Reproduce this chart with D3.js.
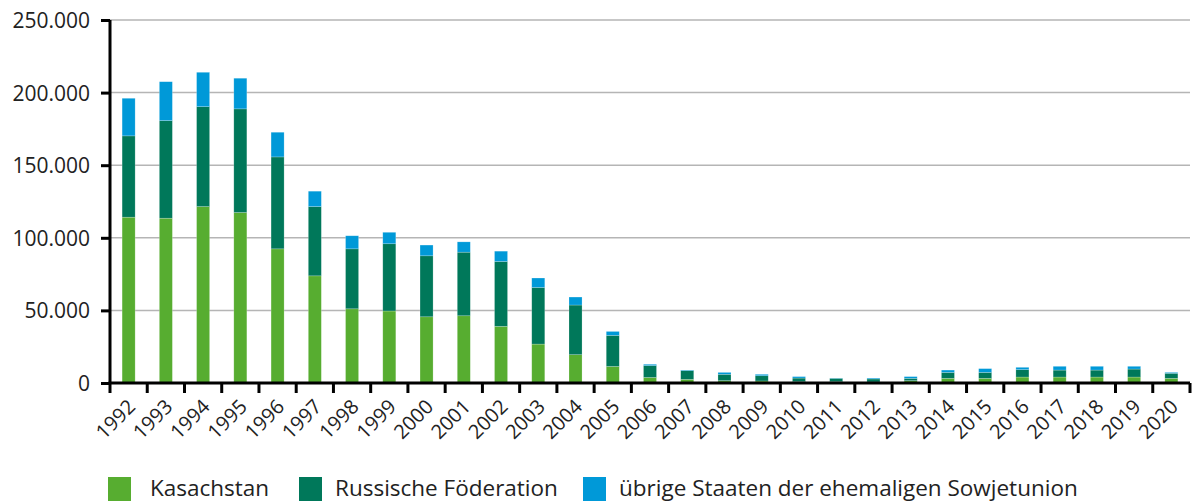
<html>
<head>
<script src="https://d3js.org/d3.v7.min.js"></script>
<style>
  body { margin: 0; background: #fff; }
  .tick-label { font-family: "Open Sans", sans-serif; fill: #222; }
  .legend-label { font-family: "Open Sans", sans-serif; fill: #222; }
</style>
</head>

<body>

<script>

var years = ["1992","1993","1994","1995","1996","1997","1998","1999","2000","2001",
             "2002","2003","2004","2005","2006","2007","2008","2009","2010","2011",
             "2012","2013","2014","2015","2016","2017","2018","2019","2020"];

var kasachstan = [114200,113500,121500,117400,92400,73800,51100,49600,45600,46300,
                  39000,26800,19500,11400,3800,2500,1600,1400,900,900,
                  700,1600,3200,3200,4100,4100,4100,4100,3200];

var russland = [56000,67200,68800,71400,63300,47700,41300,46300,42000,43800,
                44700,39000,34200,21400,8200,6000,4400,3600,2500,2300,
                2100,1600,4100,4100,5100,4800,4800,5500,3500];

var uebrige = [25900,26800,23700,21100,17000,10600,9000,7900,7400,7100,
               7100,6500,5500,2700,900,400,1300,1000,1000,200,
               600,1200,1600,2600,1600,2600,2600,1900,600];

var seriesNames = ["Kasachstan", "Russische Föderation", "übrige Staaten der ehemaligen Sowjetunion"];
var seriesColors = ["#57ad30", "#00785a", "#0099d8"];
var yTicks = [0, 50000, 100000, 150000, 200000, 250000];

var margin = {top: 20, right: 2, bottom: 119, left: 110},
    width = 1192 - margin.left - margin.right,
    height = 502 - margin.top - margin.bottom;

var svg = d3.select("body").append("svg")
            .attr("width", 1192)
            .attr("height", 502)
            .append("g")
            .attr("transform", "translate(" + margin.left + "," + margin.top + ")");

var x = d3.scaleBand()
          .domain(years)
          .range([0, width])
          .paddingInner(0.65)
          .paddingOuter(0.325);

var y = d3.scaleLinear()
          .domain([0, 250000])
          .range([height, 0]);

var fmt = function(d) { return d3.format(",")(d).replace(/,/g, "."); };

// gridlines
svg.append("g")
   .selectAll("line")
   .data(yTicks.slice(1))
   .enter().append("line")
   .attr("x1", 0)
   .attr("x2", width)
   .attr("y1", function(d) { return y(d); })
   .attr("y2", function(d) { return y(d); })
   .attr("stroke", "#b5b5b5")
   .attr("stroke-width", 1.5);

// stacked bars
var table = years.map(function(yr, i) {
  return {year: yr, k: kasachstan[i], r: russland[i], u: uebrige[i]};
});
var stack = d3.stack().keys(["k", "r", "u"])(table);

svg.append("g")
   .selectAll("g")
   .data(stack)
   .enter().append("g")
   .attr("fill", function(d, i) { return seriesColors[i]; })
   .selectAll("rect")
   .data(function(d) { return d; })
   .enter().append("rect")
   .attr("x", function(d) { return x(d.data.year); })
   .attr("width", x.bandwidth())
   .attr("y", function(d) { return y(d[1]); })
   .attr("height", function(d) { return y(d[0]) - y(d[1]); })
   .attr("stroke", "#ffffff")
   .attr("stroke-opacity", 0.35)
   .attr("stroke-width", 0.6);

// y axis
var yAxis = svg.append("g")
               .call(d3.axisLeft(y).tickValues(yTicks).tickSize(9).tickPadding(11).tickFormat(fmt));
yAxis.select(".domain").attr("stroke", "#000").attr("stroke-width", 3).attr("d", "M0," + height + "V0");
yAxis.selectAll(".tick line").attr("stroke", "#000").attr("stroke-width", 3);
yAxis.selectAll(".tick text")
     .attr("class", "tick-label")
     .style("font-size", "21px")
     .attr("dy", "0.36em");

// x axis
var bounds = years.map(function(d) { return x(d) - x.step() * x.paddingOuter(); }).concat([width]);

var xAxis = svg.append("g")
               .attr("transform", "translate(0," + height + ")");
xAxis.append("line")
     .attr("x1", -1.5)
     .attr("x2", width)
     .attr("stroke", "#000")
     .attr("stroke-width", 3);
xAxis.selectAll(".xtick")
     .data(bounds)
     .enter().append("line")
     .attr("x1", function(d) { return d; })
     .attr("x2", function(d) { return d; })
     .attr("y1", 0)
     .attr("y2", 10)
     .attr("stroke", "#000")
     .attr("stroke-width", 3);
xAxis.selectAll(".xlabel")
     .data(years)
     .enter().append("text")
     .attr("class", "tick-label")
     .style("font-size", "20px")
     .attr("text-anchor", "end")
     .attr("transform", function(d) {
       return "translate(" + (x(d) + x.bandwidth() / 2 + 8) + ",25) rotate(-45)";
     })
     .text(function(d) { return d; });

// legend
var legendBox = [108, 299, 583];
var legendText = [150, 335, 619];
var legend = d3.select("svg").append("g")
               .attr("transform", "translate(0,477)");
legend.selectAll("rect")
      .data(seriesNames)
      .enter().append("rect")
      .attr("x", function(d, i) { return legendBox[i]; })
      .attr("y", 0)
      .attr("width", 23)
      .attr("height", 24)
      .attr("fill", function(d, i) { return seriesColors[i]; });
legend.selectAll("text")
      .data(seriesNames)
      .enter().append("text")
      .attr("class", "legend-label")
      .style("font-size", "22.5px")
      .attr("x", function(d, i) { return legendText[i]; })
      .attr("y", 19)
      .text(function(d) { return d; });

</script>

</body>
</html>
